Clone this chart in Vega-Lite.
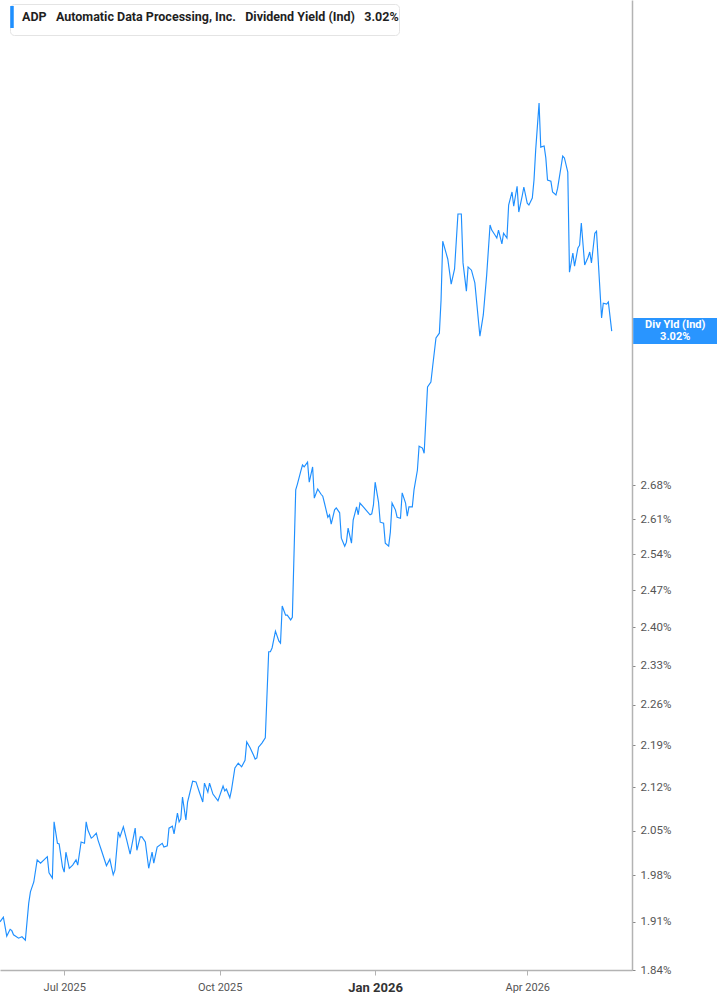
{
  "$schema": "https://vega.github.io/schema/vega-lite/v6.json",
  "width": 632,
  "height": 970,
  "autosize": {"type": "none"},
  "padding": {"left": 0, "top": 0, "right": 85, "bottom": 35},
  "background": "white",
  "config": {
    "view": {"stroke": null},
    "font": "Roboto",
    "legend": {
      "padding": 0,
      "rowPadding": 0,
      "strokeColor": "#e4e4e4",
      "fillColor": "#ffffff",
      "cornerRadius": 4,
      "symbolType": "M-1,-1L-1,1",
      "symbolSize": 484,
      "symbolStrokeWidth": 3.5,
      "labelOffset": -14,
      "labelFont": "Roboto",
      "labelFontSize": 12.5,
      "labelFontWeight": "bold",
      "labelColor": "#1f1f1f",
      "labelLimit": 600
    }
  },
  "datasets": {
    "adp": [
      {"date": "2025-05-24", "yield": 1.910}, {"date": "2025-05-26", "yield": 1.917}, {"date": "2025-05-28", "yield": 1.889},
      {"date": "2025-05-30", "yield": 1.899}, {"date": "2025-05-31", "yield": 1.897}, {"date": "2025-06-01", "yield": 1.891},
      {"date": "2025-06-04", "yield": 1.886}, {"date": "2025-06-06", "yield": 1.888}, {"date": "2025-06-08", "yield": 1.883},
      {"date": "2025-06-10", "yield": 1.938}, {"date": "2025-06-11", "yield": 1.955}, {"date": "2025-06-13", "yield": 1.970},
      {"date": "2025-06-15", "yield": 2.004}, {"date": "2025-06-17", "yield": 1.999}, {"date": "2025-06-21", "yield": 2.009},
      {"date": "2025-06-22", "yield": 1.984}, {"date": "2025-06-24", "yield": 1.976}, {"date": "2025-06-25", "yield": 2.064},
      {"date": "2025-06-27", "yield": 2.030}, {"date": "2025-06-28", "yield": 2.029}, {"date": "2025-06-30", "yield": 1.993},
      {"date": "2025-07-01", "yield": 1.985}, {"date": "2025-07-02", "yield": 2.016}, {"date": "2025-07-04", "yield": 1.991},
      {"date": "2025-07-06", "yield": 1.996}, {"date": "2025-07-08", "yield": 2.004}, {"date": "2025-07-09", "yield": 1.996},
      {"date": "2025-07-11", "yield": 2.032}, {"date": "2025-07-13", "yield": 2.030}, {"date": "2025-07-14", "yield": 2.064},
      {"date": "2025-07-15", "yield": 2.051}, {"date": "2025-07-17", "yield": 2.038}, {"date": "2025-07-18", "yield": 2.040},
      {"date": "2025-07-20", "yield": 2.046}, {"date": "2025-07-21", "yield": 2.035}, {"date": "2025-07-23", "yield": 2.019},
      {"date": "2025-07-26", "yield": 1.995}, {"date": "2025-07-28", "yield": 2.005}, {"date": "2025-07-30", "yield": 1.981},
      {"date": "2025-07-31", "yield": 1.988}, {"date": "2025-08-02", "yield": 2.048}, {"date": "2025-08-03", "yield": 2.040},
      {"date": "2025-08-05", "yield": 2.056}, {"date": "2025-08-07", "yield": 2.035}, {"date": "2025-08-09", "yield": 2.013},
      {"date": "2025-08-12", "yield": 2.054}, {"date": "2025-08-13", "yield": 2.019}, {"date": "2025-08-15", "yield": 2.040},
      {"date": "2025-08-16", "yield": 2.040}, {"date": "2025-08-18", "yield": 2.032}, {"date": "2025-08-20", "yield": 1.991},
      {"date": "2025-08-22", "yield": 2.016}, {"date": "2025-08-23", "yield": 1.999}, {"date": "2025-08-25", "yield": 2.024},
      {"date": "2025-08-28", "yield": 2.030}, {"date": "2025-08-29", "yield": 2.024}, {"date": "2025-08-31", "yield": 2.026},
      {"date": "2025-09-01", "yield": 2.054}, {"date": "2025-09-03", "yield": 2.057}, {"date": "2025-09-04", "yield": 2.045},
      {"date": "2025-09-06", "yield": 2.078}, {"date": "2025-09-07", "yield": 2.064}, {"date": "2025-09-08", "yield": 2.069},
      {"date": "2025-09-09", "yield": 2.104}, {"date": "2025-09-11", "yield": 2.067}, {"date": "2025-09-12", "yield": 2.096},
      {"date": "2025-09-15", "yield": 2.130}, {"date": "2025-09-17", "yield": 2.129}, {"date": "2025-09-19", "yield": 2.112},
      {"date": "2025-09-21", "yield": 2.096}, {"date": "2025-09-22", "yield": 2.127}, {"date": "2025-09-24", "yield": 2.112},
      {"date": "2025-09-25", "yield": 2.127}, {"date": "2025-09-27", "yield": 2.109}, {"date": "2025-09-30", "yield": 2.098},
      {"date": "2025-10-03", "yield": 2.122}, {"date": "2025-10-04", "yield": 2.114}, {"date": "2025-10-05", "yield": 2.117},
      {"date": "2025-10-07", "yield": 2.103}, {"date": "2025-10-08", "yield": 2.116}, {"date": "2025-10-10", "yield": 2.152},
      {"date": "2025-10-12", "yield": 2.160}, {"date": "2025-10-14", "yield": 2.154}, {"date": "2025-10-16", "yield": 2.165},
      {"date": "2025-10-17", "yield": 2.196}, {"date": "2025-10-19", "yield": 2.186}, {"date": "2025-10-21", "yield": 2.174},
      {"date": "2025-10-22", "yield": 2.167}, {"date": "2025-10-23", "yield": 2.169}, {"date": "2025-10-24", "yield": 2.187},
      {"date": "2025-10-26", "yield": 2.194}, {"date": "2025-10-28", "yield": 2.203}, {"date": "2025-10-30", "yield": 2.355},
      {"date": "2025-10-31", "yield": 2.355}, {"date": "2025-11-01", "yield": 2.362}, {"date": "2025-11-03", "yield": 2.393},
      {"date": "2025-11-05", "yield": 2.375}, {"date": "2025-11-06", "yield": 2.371}, {"date": "2025-11-07", "yield": 2.440},
      {"date": "2025-11-09", "yield": 2.423}, {"date": "2025-11-10", "yield": 2.423}, {"date": "2025-11-12", "yield": 2.414},
      {"date": "2025-11-13", "yield": 2.419}, {"date": "2025-11-15", "yield": 2.670}, {"date": "2025-11-16", "yield": 2.682},
      {"date": "2025-11-18", "yield": 2.709}, {"date": "2025-11-19", "yield": 2.722}, {"date": "2025-11-20", "yield": 2.718},
      {"date": "2025-11-22", "yield": 2.728}, {"date": "2025-11-23", "yield": 2.686}, {"date": "2025-11-25", "yield": 2.718},
      {"date": "2025-11-26", "yield": 2.653}, {"date": "2025-11-28", "yield": 2.672}, {"date": "2025-11-30", "yield": 2.661},
      {"date": "2025-12-01", "yield": 2.657}, {"date": "2025-12-02", "yield": 2.643}, {"date": "2025-12-04", "yield": 2.614},
      {"date": "2025-12-05", "yield": 2.619}, {"date": "2025-12-06", "yield": 2.600}, {"date": "2025-12-08", "yield": 2.629},
      {"date": "2025-12-09", "yield": 2.633}, {"date": "2025-12-11", "yield": 2.623}, {"date": "2025-12-12", "yield": 2.572},
      {"date": "2025-12-14", "yield": 2.556}, {"date": "2025-12-15", "yield": 2.564}, {"date": "2025-12-16", "yield": 2.592},
      {"date": "2025-12-18", "yield": 2.562}, {"date": "2025-12-19", "yield": 2.608}, {"date": "2025-12-21", "yield": 2.635},
      {"date": "2025-12-22", "yield": 2.619}, {"date": "2025-12-23", "yield": 2.643}, {"date": "2025-12-25", "yield": 2.635},
      {"date": "2025-12-27", "yield": 2.627}, {"date": "2025-12-29", "yield": 2.619}, {"date": "2025-12-30", "yield": 2.621},
      {"date": "2025-12-31", "yield": 2.639}, {"date": "2026-01-01", "yield": 2.686}, {"date": "2026-01-03", "yield": 2.645},
      {"date": "2026-01-04", "yield": 2.604}, {"date": "2026-01-06", "yield": 2.602}, {"date": "2026-01-07", "yield": 2.562},
      {"date": "2026-01-09", "yield": 2.556}, {"date": "2026-01-10", "yield": 2.584}, {"date": "2026-01-11", "yield": 2.643},
      {"date": "2026-01-13", "yield": 2.629}, {"date": "2026-01-14", "yield": 2.614}, {"date": "2026-01-16", "yield": 2.612},
      {"date": "2026-01-17", "yield": 2.664}, {"date": "2026-01-19", "yield": 2.643}, {"date": "2026-01-20", "yield": 2.616},
      {"date": "2026-01-21", "yield": 2.635}, {"date": "2026-01-23", "yield": 2.635}, {"date": "2026-01-24", "yield": 2.670},
      {"date": "2026-01-26", "yield": 2.711}, {"date": "2026-01-27", "yield": 2.762}, {"date": "2026-01-29", "yield": 2.758},
      {"date": "2026-01-30", "yield": 2.747}, {"date": "2026-02-01", "yield": 2.892}, {"date": "2026-02-03", "yield": 2.903},
      {"date": "2026-02-04", "yield": 2.937}, {"date": "2026-02-06", "yield": 3.004}, {"date": "2026-02-08", "yield": 3.015},
      {"date": "2026-02-09", "yield": 3.093}, {"date": "2026-02-10", "yield": 3.238}, {"date": "2026-02-12", "yield": 3.208},
      {"date": "2026-02-13", "yield": 3.193}, {"date": "2026-02-15", "yield": 3.132}, {"date": "2026-02-17", "yield": 3.169},
      {"date": "2026-02-19", "yield": 3.307}, {"date": "2026-02-21", "yield": 3.307}, {"date": "2026-02-22", "yield": 3.184},
      {"date": "2026-02-24", "yield": 3.115}, {"date": "2026-02-25", "yield": 3.174}, {"date": "2026-02-27", "yield": 3.166},
      {"date": "2026-03-01", "yield": 3.135}, {"date": "2026-03-04", "yield": 3.008}, {"date": "2026-03-06", "yield": 3.058},
      {"date": "2026-03-08", "yield": 3.154}, {"date": "2026-03-10", "yield": 3.279}, {"date": "2026-03-11", "yield": 3.266},
      {"date": "2026-03-13", "yield": 3.253}, {"date": "2026-03-14", "yield": 3.246}, {"date": "2026-03-15", "yield": 3.266},
      {"date": "2026-03-17", "yield": 3.231}, {"date": "2026-03-18", "yield": 3.258}, {"date": "2026-03-20", "yield": 3.246},
      {"date": "2026-03-21", "yield": 3.330}, {"date": "2026-03-23", "yield": 3.364}, {"date": "2026-03-24", "yield": 3.327},
      {"date": "2026-03-26", "yield": 3.379}, {"date": "2026-03-27", "yield": 3.312}, {"date": "2026-03-29", "yield": 3.353},
      {"date": "2026-03-30", "yield": 3.377}, {"date": "2026-04-01", "yield": 3.335}, {"date": "2026-04-02", "yield": 3.330},
      {"date": "2026-04-04", "yield": 3.348}, {"date": "2026-04-05", "yield": 3.395}, {"date": "2026-04-06", "yield": 3.475},
      {"date": "2026-04-08", "yield": 3.604}, {"date": "2026-04-09", "yield": 3.483}, {"date": "2026-04-11", "yield": 3.486},
      {"date": "2026-04-12", "yield": 3.454}, {"date": "2026-04-13", "yield": 3.395}, {"date": "2026-04-15", "yield": 3.392},
      {"date": "2026-04-16", "yield": 3.364}, {"date": "2026-04-18", "yield": 3.356}, {"date": "2026-04-19", "yield": 3.374},
      {"date": "2026-04-21", "yield": 3.430}, {"date": "2026-04-22", "yield": 3.459}, {"date": "2026-04-23", "yield": 3.454},
      {"date": "2026-04-25", "yield": 3.416}, {"date": "2026-04-26", "yield": 3.161}, {"date": "2026-04-28", "yield": 3.208},
      {"date": "2026-04-29", "yield": 3.176}, {"date": "2026-05-01", "yield": 3.221}, {"date": "2026-05-02", "yield": 3.228},
      {"date": "2026-05-03", "yield": 3.284}, {"date": "2026-05-05", "yield": 3.179}, {"date": "2026-05-07", "yield": 3.198},
      {"date": "2026-05-08", "yield": 3.211}, {"date": "2026-05-09", "yield": 3.184}, {"date": "2026-05-11", "yield": 3.258},
      {"date": "2026-05-12", "yield": 3.263}, {"date": "2026-05-15", "yield": 3.051}, {"date": "2026-05-16", "yield": 3.086},
      {"date": "2026-05-18", "yield": 3.084}, {"date": "2026-05-19", "yield": 3.089}, {"date": "2026-05-21", "yield": 3.020}
    ],
    "last": [{"date": "2026-05-21", "yield": 3.02}]
  },
  "layer": [
    {
      "data": {"name": "adp"},
      "mark": {"type": "line", "strokeWidth": 1.15, "clip": true},
      "encoding": {
        "x": {
          "field": "date",
          "type": "temporal",
          "scale": {
            "type": "utc",
            "domain": [
              {"year": 2025, "month": 5, "date": 24, "utc": true},
              {"year": 2026, "month": 6, "date": 2, "utc": true}
            ]
          },
          "axis": {
            "title": null,
            "grid": false,
            "values": [
              {"year": 2025, "month": 7, "date": 1, "utc": true},
              {"year": 2025, "month": 10, "date": 1, "utc": true},
              {"year": 2026, "month": 1, "date": 1, "utc": true},
              {"year": 2026, "month": 4, "date": 1, "utc": true}
            ],
            "labelExpr": "utcFormat(datum.value, '%b %Y')",
            "labelFont": "Roboto",
            "labelFontSize": {"condition": {"test": "utcmonth(datum.value) == 0", "value": 13}, "value": 11},
            "labelFontWeight": {"condition": {"test": "utcmonth(datum.value) == 0", "value": "bold"}, "value": "normal"},
            "labelColor": {"condition": {"test": "utcmonth(datum.value) == 0", "value": "#333333"}, "value": "#555555"},
            "labelPadding": 6,
            "labelFlush": false,
            "domainColor": "#b3b3b3",
            "domainWidth": 1.5,
            "tickColor": "#b3b3b3",
            "tickSize": 5,
            "tickWidth": 1
          }
        },
        "y": {
          "field": "yield",
          "type": "quantitative",
          "scale": {"type": "log", "domain": [1.84, 3.904], "nice": false, "zero": false},
          "axis": {
            "orient": "right",
            "title": null,
            "grid": false,
            "values": [1.84, 1.91, 1.98, 2.05, 2.12, 2.19, 2.26, 2.33, 2.40, 2.47, 2.54, 2.61, 2.68],
            "labelExpr": "format(datum.value, '.2f') + '%'",
            "labelFont": "Roboto",
            "labelFontSize": 11.5,
            "labelColor": "#555555",
            "labelPadding": 5,
            "labelFlush": false,
            "labelOverlap": false,
            "domainColor": "#b3b3b3",
            "domainWidth": 1.5,
            "tickColor": "#888888",
            "tickSize": 3,
            "tickWidth": 1
          }
        },
        "color": {
          "datum": "ADP\u00a0\u00a0 Automatic Data Processing, Inc.\u00a0\u00a0 Dividend Yield (Ind)\u00a0\u00a0 3.02%",
          "type": "nominal",
          "scale": {"range": ["#1e8fff"]},
          "legend": {"title": null, "orient": "none", "legendX": 10, "legendY": 4}
        }
      }
    },
    {
      "data": {"name": "last"},
      "mark": {"type": "rect", "color": "#1e8fff", "opacity": 0.95, "xOffset": 21.5, "x2Offset": 106, "yOffset": -13, "y2Offset": 13},
      "encoding": {
        "x": {"field": "date", "type": "temporal"},
        "x2": {"field": "date"},
        "y": {"field": "yield", "type": "quantitative"},
        "y2": {"field": "yield"}
      }
    },
    {
      "data": {"name": "last"},
      "mark": {"type": "text", "align": "center", "baseline": "middle", "dx": 63.5, "dy": -6.5, "fontSize": 11, "fontWeight": "bold", "color": "white", "font": "Roboto", "lineHeight": 12.5},
      "encoding": {
        "x": {"field": "date", "type": "temporal"},
        "y": {"field": "yield", "type": "quantitative"},
        "text": {"value": ["Div Yld (Ind)", "3.02%"]}
      }
    }
  ]
}
